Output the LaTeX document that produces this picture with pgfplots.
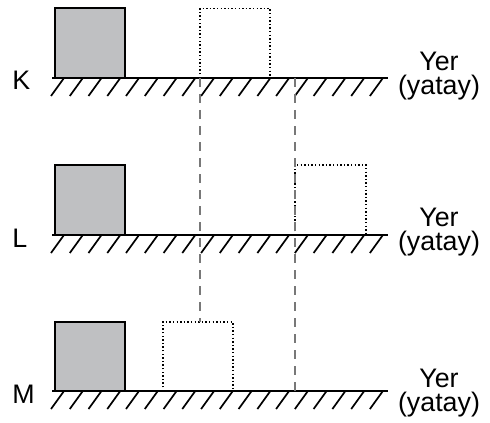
\documentclass[border=0pt]{standalone}
\usepackage{fontspec}
\setmainfont{Liberation Sans}
\usepackage{pgfplots}
\usepackage{pgfplotstable}
\pgfplotsset{compat=1.18}

\definecolor{blockgray}{RGB}{191,192,194}
\definecolor{guide}{RGB}{120,120,120}

% hatch strokes under a floor: x along the floor, dy below it (pixels)
\pgfplotstableread{
x dy
51.0 18
64.0 0
nan nan
69.8 18
82.8 0
nan nan
88.5 18
101.5 0
nan nan
107.3 18
120.3 0
nan nan
126.0 18
139.0 0
nan nan
144.8 18
157.8 0
nan nan
163.6 18
176.6 0
nan nan
182.3 18
195.3 0
nan nan
201.1 18
214.1 0
nan nan
219.8 18
232.8 0
nan nan
238.6 18
251.6 0
nan nan
257.4 18
270.4 0
nan nan
276.1 18
289.1 0
nan nan
294.9 18
307.9 0
nan nan
313.6 18
326.6 0
nan nan
332.4 18
345.4 0
nan nan
351.2 18
364.2 0
nan nan
369.9 18
382.9 0
}\hatch

\begin{document}
\begin{tikzpicture}
\begin{axis}[
  width=245pt, height=211pt, scale only axis,
  xmin=0, xmax=490, ymin=0, ymax=422, y dir=reverse,
  hide axis, clip=false, unbounded coords=jump,
  every axis plot/.append style={no markers},
]
\addplot[draw=none] coordinates {(0,0) (490,422)};

% grey blocks
\addplot[fill=blockgray, draw=black, line width=1pt] coordinates {(54.5,78) (54.5,8.5) (124.7,8.5) (124.7,78)} -- cycle;
\addplot[fill=blockgray, draw=black, line width=1pt] coordinates {(54.5,235) (54.5,165) (124.7,165) (124.7,235)} -- cycle;
\addplot[fill=blockgray, draw=black, line width=1pt] coordinates {(54.5,391) (54.5,322) (124.7,322) (124.7,391)} -- cycle;

% dotted blocks
\addplot[black, line width=0.8pt, dash pattern=on 0.7pt off 1.1pt] coordinates {(200,78) (200,8.5) (270,8.5) (270,78)} -- cycle;
\addplot[black, line width=0.8pt, dash pattern=on 0.7pt off 1.1pt] coordinates {(295,235) (295,165) (366,165) (366,235)} -- cycle;
\addplot[black, line width=0.8pt, dash pattern=on 0.7pt off 1.1pt] coordinates {(162.7,391) (162.7,322) (233,322) (233,391)} -- cycle;

% floors
\addplot[black, line width=1pt] coordinates {(52,78) (388,78)};
\addplot[black, line width=1pt] coordinates {(52,235) (388,235)};
\addplot[black, line width=1pt] coordinates {(52,391) (388,391)};
\addplot[black, line width=0.85pt] table[x=x, y expr=\thisrow{dy}+78] {\hatch};
\addplot[black, line width=0.85pt] table[x=x, y expr=\thisrow{dy}+235] {\hatch};
\addplot[black, line width=0.85pt] table[x=x, y expr=\thisrow{dy}+391] {\hatch};

% guide lines
\addplot[guide, line width=1.1pt, dash pattern=on 4.5pt off 3.5pt] coordinates {(200,78) (200,322)};
\addplot[guide, line width=1.1pt, dash pattern=on 4.5pt off 3.5pt] coordinates {(295,78) (295,391)};

% labels
\begin{scope}[font=\fontsize{13.4}{15}\selectfont]
\node[anchor=base west, inner sep=0pt] at (axis cs:12,90) {K};
\node[anchor=base west, inner sep=0pt] at (axis cs:12,247) {L};
\node[anchor=base west, inner sep=0pt] at (axis cs:12,403) {M};
\node[anchor=base, inner sep=0pt] at (axis cs:439,71) {Yer};
\node[anchor=base, inner sep=0pt] at (axis cs:439,95) {(yatay)};
\node[anchor=base, inner sep=0pt] at (axis cs:439,226) {Yer};
\node[anchor=base, inner sep=0pt] at (axis cs:439,250) {(yatay)};
\node[anchor=base, inner sep=0pt] at (axis cs:439,387) {Yer};
\node[anchor=base, inner sep=0pt] at (axis cs:439,411) {(yatay)};
\end{scope}
\end{axis}
\end{tikzpicture}
\end{document}
